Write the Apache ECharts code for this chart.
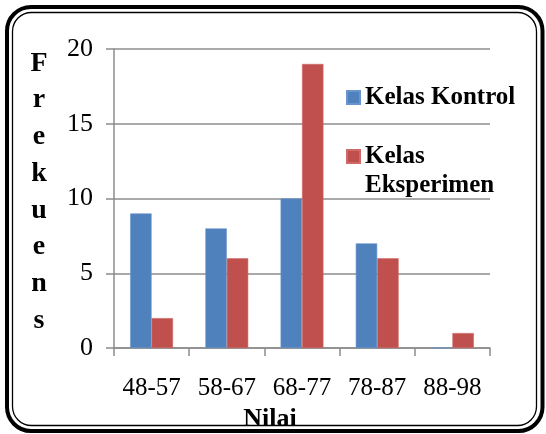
<!DOCTYPE html>
<html>
<head>
<meta charset="utf-8">
<style>
  html, body { margin: 0; padding: 0; background: #fff; }
  #chart { width: 546px; height: 434px; }
</style>
<script src="https://cdn.jsdelivr.net/npm/echarts@6/dist/echarts.min.js"></script>
</head>
<body>
<div id="chart"></div>
<script>
const categories = ['48-57', '58-67', '68-77', '78-87', '88-98'];
const kontrol = [9, 8, 10, 7, 0];
const eksperimen = [2, 6, 19, 6, 1];
const seriesNames = ['Kelas Kontrol', 'Kelas Eksperimen'];
const yTitle = 'F\nr\ne\nk\nu\ne\nn\ns';
const xTitle = 'Nilai';

const FONT = '"Liberation Serif", "Times New Roman", serif';
const GRID = '#8c8c8c';

const chart = echarts.init(document.getElementById('chart'), null, { renderer: 'canvas' });
chart.setOption({
  backgroundColor: '#fff',
  animation: false,
  textStyle: { fontFamily: FONT, color: '#000' },
  graphic: [
    { type: 'rect', shape: { x: 7, y: 7, width: 535.5, height: 424, r: 24 },
      style: { fill: 'none', stroke: '#000', lineWidth: 4 } },
    { type: 'rect', shape: { x: 12.5, y: 12.5, width: 524, height: 413, r: 19 },
      style: { fill: 'none', stroke: '#000', lineWidth: 1.3 } },
    { type: 'text', x: 39, y: 192,
      style: { text: yTitle, fontFamily: FONT, fontSize: 28, fontWeight: 'bold', fill: '#000',
               lineHeight: 36.7, align: 'center', verticalAlign: 'middle' } }
  ],
  legend: [
    {
      data: [seriesNames[0]],
      left: 346, top: 85, padding: 0,
      itemWidth: 13, itemHeight: 13, itemGap: 0,
      icon: 'rect',
      textStyle: { fontFamily: FONT, fontSize: 25, fontWeight: 'bold', color: '#000' }
    },
    {
      data: [seriesNames[1]],
      left: 346, top: 113, padding: 0,
      itemWidth: 13, itemHeight: 13, itemGap: 0,
      icon: 'rect',
      formatter: function () { return ' \nKelas\nEksperimen'; },
      textStyle: { fontFamily: FONT, fontSize: 25, fontWeight: 'bold', color: '#000', lineHeight: 29 }
    }
  ],
  grid: { left: 114, right: 56, top: 49, bottom: 86, containLabel: false, outerBoundsMode: 'none' },
  xAxis: {
    type: 'category',
    data: categories,
    name: xTitle,
    nameLocation: 'middle',
    nameGap: 58,
    nameTextStyle: { fontFamily: FONT, fontSize: 26, fontWeight: 'bold', color: '#000', padding: [0, 64, 0, 0] },
    axisLine: { lineStyle: { color: GRID, width: 1.5 } },
    axisTick: { show: true, length: 8, lineStyle: { color: GRID, width: 1.5 } },
    axisLabel: { interval: 0, fontFamily: FONT, fontSize: 25, color: '#000', margin: 28 }
  },
  yAxis: {
    type: 'value',
    min: 0, max: 20, interval: 5,
    axisLine: { show: true, lineStyle: { color: GRID, width: 1.5 } },
    axisTick: { show: true, length: 8, lineStyle: { color: GRID, width: 1.5 } },
    splitLine: { lineStyle: { color: GRID, width: 1.5 } },
    axisLabel: { fontFamily: FONT, fontSize: 26, color: '#000', margin: 21 }
  },
  series: [
    { name: seriesNames[0], type: 'bar', data: kontrol, barGap: '0%', barCategoryGap: '43%',
      itemStyle: { color: '#4F81BD', borderColor: '#6a95cc', borderWidth: 0.6 } },
    { name: seriesNames[1], type: 'bar', data: eksperimen, barGap: '0%', barCategoryGap: '43%',
      itemStyle: { color: '#C0504D', borderColor: '#d06a67', borderWidth: 0.6 } }
  ]
});
</script>
</body>
</html>
